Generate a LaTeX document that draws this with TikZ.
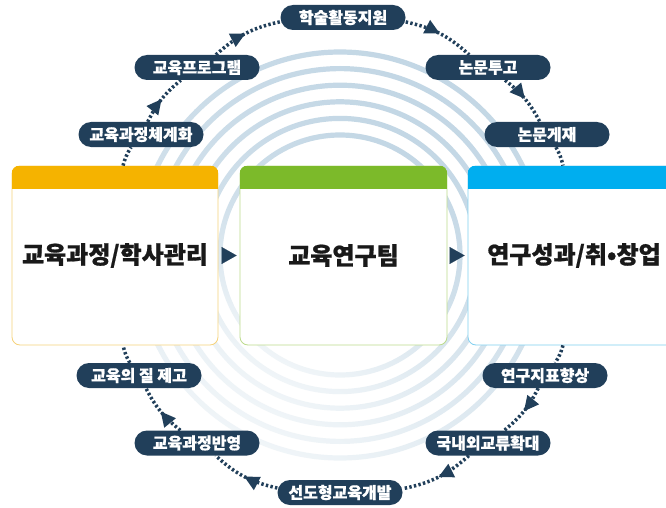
\documentclass[tikz,border=0pt]{standalone}
\usepackage{fontspec}
\newfontfamily\kr{Noto Sans CJK KR}[BoldFeatures={FakeBold=0.8}]
\usetikzlibrary{arrows.meta,decorations.markings,calc}
\definecolor{navy}{HTML}{213F5A}
\definecolor{ringA}{HTML}{C3D7E5}
\definecolor{ringB}{HTML}{F0F5F8}
\definecolor{Lhead}{HTML}{F5B300}
\definecolor{Lline}{HTML}{F6D27A}
\definecolor{Mhead}{HTML}{7CBA2A}
\definecolor{Mline}{HTML}{BCDB8C}
\definecolor{Rhead}{HTML}{00AEEF}
\definecolor{Rline}{HTML}{7FCFF0}
\begin{document}
\begin{tikzpicture}[x=1pt,y=1pt,
  pill/.style={fill=navy, text=white, rounded corners=12.5pt, minimum width=125pt,
    minimum height=25pt, inner sep=0pt, font=\kr\bfseries\fontsize{16}{18}\selectfont},
  box/.style={rounded corners=8pt, minimum height=179pt, fill=white,
    line width=0.8pt, inner sep=0pt, text=black!90,
    font=\kr\bfseries\fontsize{24}{28}\selectfont},
  flow/.style={navy, line width=3.5pt, dash pattern=on 2.4pt off 2.3pt},
  mid/.style={postaction={decorate}, decoration={markings,
    mark=at position 0.5 with {\arrow{Triangle[length=15pt,width=14pt]}}}},
  boxarrow/.style={navy, line width=0.1pt, -{Triangle[length=15pt,width=17pt]},
    shorten <=3.5pt, shorten >=3pt},
  ringstyle/.style={even odd rule, top color=ringA, bottom color=ringB,
    middle color=ringA!70!ringB, shading angle=-25}
]
\clip (0,0) rectangle (666,-508);
\fill[white] (0,0) rectangle (666,-508);

% concentric rings
\begin{scope}[shift={(340,-255)}]
  \foreach \r in {203,186.4,169.8,153.2,136.6,120} {
    \shade[ringstyle] (0,0) circle[radius=\r+2.6] (0,0) circle[radius=\r-2.6];
  }
\end{scope}

% main boxes
\node[box, draw=Lline, minimum width=206pt] (L) at (115,-255.5) {교육과정/학사관리};
\node[box, draw=Mline, minimum width=207pt] (M) at (343.5,-255.5) {교육연구팀};
\node[box, draw=Rline, minimum width=212pt] (R) at (574,-255.5) {연구성과/취•창업};
\begin{scope}
  \clip[rounded corners=8pt] (L.north west) rectangle (L.south east);
  \fill[Lhead] (L.north west) rectangle ($(L.north east)+(0,-23)$);
\end{scope}
\begin{scope}
  \clip[rounded corners=8pt] (M.north west) rectangle (M.south east);
  \fill[Mhead] (M.north west) rectangle ($(M.north east)+(0,-23)$);
\end{scope}
\begin{scope}
  \clip[rounded corners=8pt] (R.north west) rectangle (R.south east);
  \fill[Rhead] (R.north west) rectangle ($(R.north east)+(0,-23)$);
\end{scope}

\draw[boxarrow] (L.east) -- (M.west);
\draw[boxarrow] (M.east) -- (R.west);

% pills
\node[pill] (P1) at (141,-134.5) {교육과정체계화};
\node[pill] (P2) at (197,-67.5) {교육프로그램};
\node[pill] (P3) at (343,-17.5) {학술활동지원};
\node[pill] (P4) at (488,-67.5) {논문투고};
\node[pill] (P5) at (547,-134.5) {논문게재};
\node[pill] (Q1) at (545,-375.5) {연구지표향상};
\node[pill] (Q2) at (488,-443) {국내외교류확대};
\node[pill] (Q3) at (340,-492.5) {선도형교육개발};
\node[pill] (Q4) at (197,-443) {교육과정반영};
\node[pill] (Q5) at (139,-375.5) {교육의 질 제고};

\coordinate (Lt) at (123,0 |- L.north);
\coordinate (Lb) at (123,0 |- L.south);
\coordinate (Rt) at (563,0 |- R.north);
\coordinate (Rb) at (563,0 |- R.south);

% flow connectors
\draw[flow] (Lt) to[bend left=8] (P1);
\draw[flow,mid] (P1) to[bend left=12] (P2);
\draw[flow,mid] (P2) to[bend left=15] (P3);
\draw[flow,mid] (P3) to[bend left=15] (P4);
\draw[flow,mid] (P4) to[bend left=12] (P5);
\draw[flow] (P5) to[bend left=8] (Rt);
\draw[flow] (Rb) to[bend left=8] (Q1);
\draw[flow,mid] (Q1) to[bend left=12] (Q2);
\draw[flow,mid] (Q2) to[bend left=15] (Q3);
\draw[flow,mid] (Q3) to[bend left=15] (Q4);
\draw[flow,mid] (Q4) to[bend left=12] (Q5);
\draw[flow] (Q5) to[bend left=8] (Lb);
\end{tikzpicture}
\end{document}
